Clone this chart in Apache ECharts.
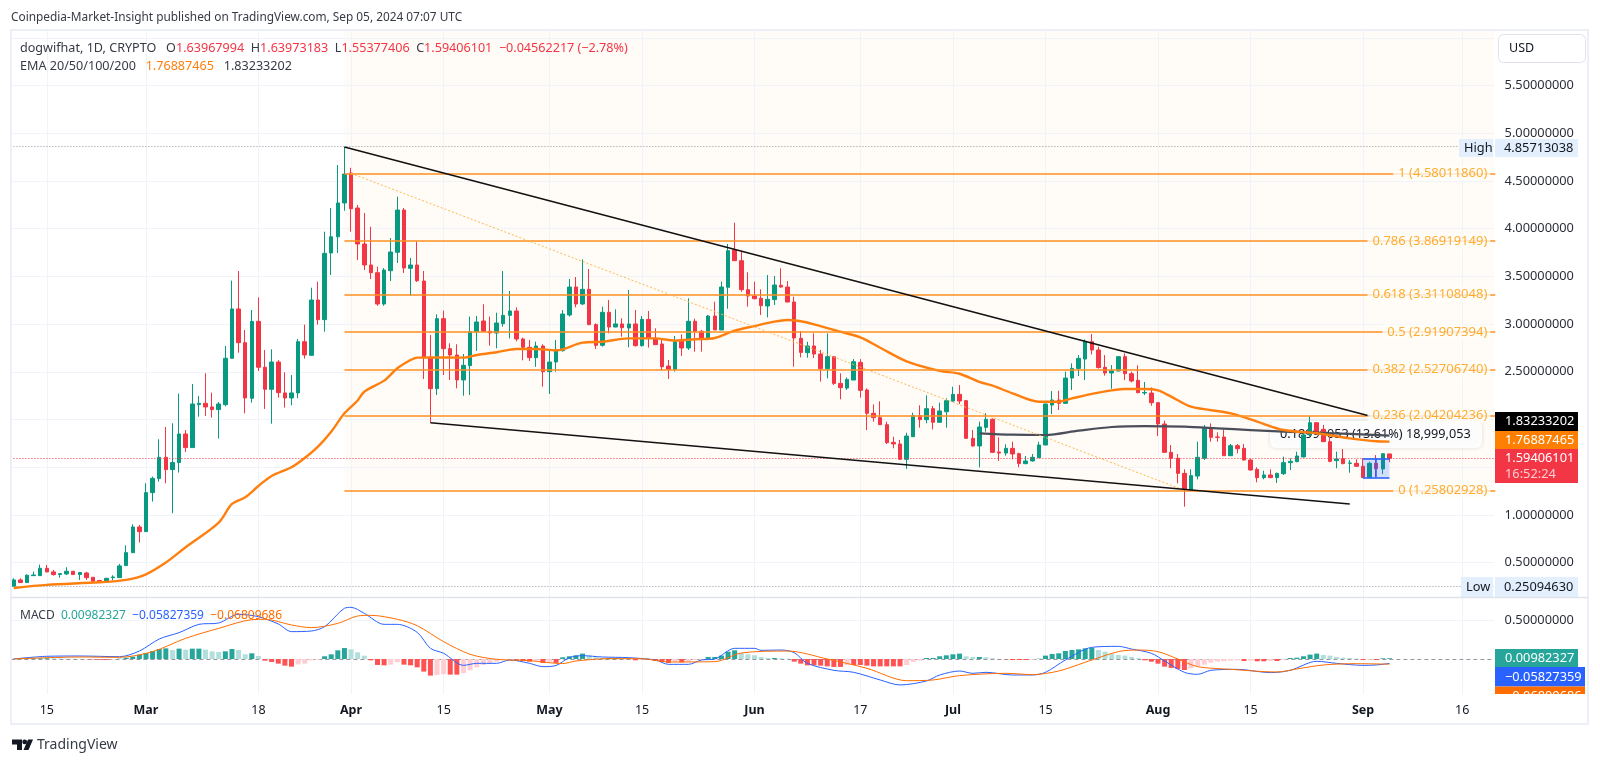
<!DOCTYPE html>
<html><head><meta charset="utf-8">
<style>html,body{margin:0;padding:0;background:#fff}#c{width:1600px;height:764px}</style>
<script src="https://cdn.jsdelivr.net/npm/echarts@6/dist/echarts.min.js"></script>
</head><body><div id="c"></div>
<script>
// [open, close, low, high], one per day from 2024-02-10
const ohlc = [
[.252,.319,.251,.336],[.319,.291,.288,.336],[.291,.368,.291,.378],[.364,.371,.364,.406],[.364,.441,.362,.480],[.441,.403,.399,.476],[.403,.375,.364,.424],[.375,.385,.343,.388],[.382,.410,.371,.452],[.410,.375,.371,.413],
[.375,.396,.319,.403],[.392,.343,.319,.403],[.347,.305,.305,.347],[.312,.294,.294,.319],[.294,.336,.294,.340],[.343,.350,.312,.368],[.343,.466,.343,.487],[.469,.605,.469,.682],[.605,.874,.600,.902],[.874,.825,.710,.895],
[.825,1.234,.825,1.332],[1.234,1.384,1.140,1.402],[1.381,1.604,1.349,1.793],[1.604,1.475,1.332,1.922],[1.475,1.549,1.018,1.961],[1.549,1.849,1.444,2.272],[1.849,1.706,1.660,1.891],[1.706,2.163,1.706,2.373],[2.156,2.170,2.030,2.247],[2.170,2.132,2.037,2.485],
[2.132,2.104,2.020,2.282],[2.104,2.163,1.800,2.184],[2.156,2.642,2.139,2.771],[2.642,3.159,2.642,3.456],[3.159,2.806,2.701,3.557],[2.806,2.226,2.065,2.939],[2.223,3.029,2.177,3.148],[3.029,2.548,2.509,3.281],[2.548,2.317,2.111,2.729],[2.317,2.603,1.957,2.736],
[2.603,2.282,2.230,2.624],[2.279,2.226,2.125,2.495],[2.226,2.279,2.149,2.467],[2.279,2.816,2.223,2.844],[2.816,2.677,2.638,2.995],[2.673,3.253,2.673,3.382],[3.253,3.047,2.995,3.445],[3.047,3.742,2.921,3.969],[3.746,3.916,3.515,4.217],[3.916,4.270,3.746,4.668],
[4.270,4.573,4.189,4.857],[4.584,4.210,3.969,4.639],[4.217,3.840,3.672,4.249],[3.840,3.620,3.567,4.165],[3.620,3.539,3.473,4.021],[3.539,3.211,3.193,3.602],[3.211,3.567,3.193,3.588],[3.560,3.756,3.452,3.903],[3.753,4.196,3.641,4.336],[4.196,3.588,3.536,4.217],
[3.585,3.620,3.298,3.693],[3.620,3.455,3.442,3.864],[3.452,2.652,2.425,3.557],[2.652,2.324,1.968,2.886],[2.324,3.057,2.257,3.103],[3.057,2.743,2.467,3.141],[2.743,2.677,2.415,2.799],[2.677,2.415,2.327,2.789],[2.415,2.568,2.250,2.687],[2.565,2.921,2.257,3.079],
[2.918,3.023,2.719,3.085],[3.033,2.925,2.921,3.208],[2.925,2.907,2.775,3.079],[2.907,3.012,2.747,3.120],[3.005,3.092,2.974,3.557],[3.092,3.138,2.851,3.347],[3.138,2.844,2.820,3.176],[2.844,2.757,2.621,2.858],[2.757,2.649,2.614,2.834],[2.649,2.771,2.554,2.816],
[2.771,2.502,2.345,2.789],[2.502,2.603,2.268,2.722],[2.603,2.722,2.502,2.834],[2.722,3.106,2.712,3.148],[3.096,3.389,3.079,3.473],[3.389,3.211,3.176,3.494],[3.211,3.365,3.201,3.679],[3.365,2.995,2.988,3.578],[2.995,2.778,2.740,3.009],[2.778,3.124,2.764,3.183],
[3.124,2.970,2.904,3.253],[2.970,3.002,2.967,3.155],[3.002,2.963,2.869,3.061],[2.960,3.002,2.757,3.358],[3.002,2.775,2.764,3.148],[2.775,3.050,2.764,3.085],[3.050,2.851,2.754,3.138],[2.851,2.785,2.781,2.956],[2.792,2.554,2.512,2.834],[2.561,2.526,2.425,2.624],
[2.526,2.816,2.502,2.876],[2.823,2.750,2.666,2.893],[2.750,3.030,2.729,3.271],[3.030,2.925,2.712,3.057],[2.925,2.855,2.712,2.939],[2.855,3.085,2.851,3.096],[3.085,2.939,2.939,3.235],[2.939,3.389,2.939,3.445],[3.386,3.770,3.162,3.840],[3.777,3.665,3.662,4.063],
[3.665,3.361,3.340,3.770],[3.361,3.295,3.183,3.543],[3.295,3.267,3.260,3.445],[3.271,3.194,3.096,3.365],[3.190,3.260,3.071,3.515],[3.257,3.410,3.201,3.504],[3.407,3.389,3.382,3.585],[3.389,3.232,3.229,3.452],[3.232,2.855,2.554,3.288],[2.851,2.704,2.652,2.928],
[2.701,2.771,2.648,2.816],[2.771,2.687,2.645,2.903],[2.687,2.533,2.397,2.729],[2.533,2.659,2.432,2.903],[2.659,2.379,2.362,2.666],[2.379,2.334,2.212,2.484],[2.330,2.421,2.310,2.442],[2.414,2.606,2.414,2.634],[2.599,2.306,2.229,2.634],[2.310,2.065,1.890,2.327],
[2.065,2.020,1.978,2.159],[2.020,1.946,1.943,2.191],[1.946,1.758,1.744,1.978],[1.761,1.744,1.698,1.820],[1.744,1.583,1.576,1.786],[1.583,1.827,1.482,1.862],[1.820,2.041,1.817,2.072],[2.041,1.999,1.915,2.149],[1.999,2.114,1.960,2.254],[2.114,1.971,1.897,2.142],
[1.971,2.090,1.967,2.177],[2.082,2.198,1.915,2.222],[2.194,2.264,2.187,2.344],[2.264,2.194,2.163,2.362],[2.198,1.803,1.800,2.205],[1.803,1.723,1.716,1.890],[1.723,1.922,1.499,1.978],[1.918,2.002,1.873,2.065],[2.002,1.656,1.653,2.013],[1.660,1.649,1.566,1.813],
[1.649,1.698,1.621,1.740],[1.698,1.639,1.583,1.768],[1.642,1.538,1.499,1.653],[1.538,1.566,1.531,1.618],[1.566,1.604,1.559,1.639],[1.600,1.733,1.600,1.768],[1.733,2.163,1.733,2.166],[2.152,2.205,2.058,2.299],[2.205,2.170,2.100,2.302],[2.170,2.435,2.166,2.502],
[2.435,2.536,2.310,2.589],[2.536,2.641,2.456,2.676],[2.634,2.816,2.414,2.840],[2.816,2.729,2.683,2.896],[2.729,2.544,2.536,2.764],[2.547,2.488,2.460,2.676],[2.488,2.512,2.323,2.571],[2.509,2.659,2.505,2.666],[2.659,2.481,2.414,2.694],[2.481,2.404,2.390,2.502],
[2.411,2.282,2.275,2.568],[2.278,2.284,2.257,2.393],[2.278,2.177,2.145,2.337],[2.177,1.953,1.827,2.180],[1.953,1.656,1.653,1.988],[1.656,1.594,1.489,1.733],[1.594,1.436,1.332,1.639],[1.436,1.269,1.087,1.478],[1.262,1.412,1.258,1.478],[1.408,1.604,1.373,1.768],
[1.594,1.915,1.576,1.943],[1.908,1.814,1.768,1.960],[1.817,1.814,1.768,1.866],[1.817,1.621,1.618,1.897],[1.621,1.726,1.618,1.744],[1.726,1.695,1.646,1.744],[1.698,1.576,1.569,1.744],[1.576,1.471,1.464,1.590],[1.478,1.391,1.342,1.499],[1.391,1.419,1.373,1.464],
[1.419,1.391,1.391,1.478],[1.391,1.436,1.335,1.443],[1.433,1.548,1.419,1.611],[1.548,1.562,1.471,1.594],[1.559,1.618,1.552,1.663],[1.608,1.838,1.604,1.856],[1.838,1.967,1.821,2.037],[1.967,1.873,1.866,1.967],[1.897,1.768,1.765,1.943],[1.768,1.562,1.552,1.821],
[1.569,1.587,1.489,1.663],[1.590,1.538,1.531,1.691],[1.541,1.545,1.443,1.576],[1.541,1.510,1.506,1.583],[1.510,1.391,1.391,1.594],[1.391,1.541,1.391,1.559],[1.541,1.485,1.394,1.628],[1.482,1.642,1.429,1.642],[1.6397,1.5941,1.5538,1.6397]
];
// [day index, value]
const ema50 = [[0,.235],[5,.267],[13,.294],[17,.319],[20,.378],[23,.501],[26,.661],[31,.920],[33,1.115],[35,1.185],[37,1.304],[39,1.409],[42,1.500],[44,1.597],[46,1.716],[48,1.873],[50,2.065],[52,2.200],[53,2.292],[56,2.408],[58,2.537],[60,2.624],[61,2.649],[63,2.652],[68,2.649],[70,2.677],[73,2.705],[76,2.740],[79,2.740],[82,2.726],[83,2.736],[86,2.806],[89,2.816],[93,2.851],[97,2.851],[100,2.827],[103,2.841],[106,2.855],[109,2.932],[112,2.980],[115,3.026],[117,3.043],[119,3.030],[121,2.998],[125,2.921],[128,2.861],[131,2.753],[135,2.610],[140,2.510],[143,2.480],[146,2.395],[148,2.355],[151,2.275],[155,2.187],[158,2.187],[160,2.222],[164,2.282],[168,2.320],[171,2.320],[173,2.305],[175,2.240],[178,2.135],[184,2.065],[188,1.978],[192,1.890],[197,1.856],[202,1.803],[206,1.772],[208,1.769]];
const ema200 = [[146,1.855],[151,1.841],[156,1.838],[161,1.883],[166,1.922],[171,1.932],[177,1.925],[182,1.908],[187,1.890],[192,1.873],[197,1.862],[202,1.849],[208,1.832]];
const macdHist = [
.002,.004,.006,.008,.009,.010,.008,.006,.005,.004,
.003,-.002,-.006,-.010,-.012,-.006,.004,.017,.030,.057,
.078,.104,.130,.139,.117,.135,.122,.135,.135,.122,
.100,.091,.100,.130,.117,.061,.074,.039,-.022,-.039,
-.061,-.087,-.100,-.070,-.061,-.017,-.009,.035,.061,.113,
.143,.126,.087,.043,-.017,-.078,-.083,-.074,-.043,-.074,
-.083,-.109,-.165,-.217,-.209,-.200,-.204,-.204,-.183,-.148,
-.109,-.078,-.057,-.035,-.013,-.009,-.009,-.026,-.035,-.022,
-.052,-.035,-.052,.022,.035,.048,.070,.044,.022,.013,
.013,.013,.009,.004,-.017,-.009,-.013,-.026,-.039,-.052,
-.035,-.044,-.035,-.013,-.009,.026,.026,.044,.096,.113,
.078,.061,.048,.026,.013,.013,.009,.004,-.035,-.061,
-.083,-.083,-.087,-.096,-.104,-.104,-.078,-.078,-.078,-.087,
-.096,-.096,-.096,-.096,-.096,-.078,-.039,-.022,.013,.013,
.035,.048,.061,.070,.035,.026,.026,.022,.009,-.002,
-.004,-.013,-.013,-.013,-.009,.004,.044,.065,.074,.104,
.117,.126,.139,.144,.117,.096,.065,.052,.044,.026,
.009,-.017,-.035,-.061,-.100,-.117,-.130,-.144,-.122,-.091,
-.074,-.048,-.035,-.030,-.022,-.017,-.026,-.022,-.030,-.030,
-.026,-.026,-.009,.013,.017,.035,.057,.070,.052,.044,
.026,.017,.013,.004,-.013,-.009,-.013,.009,.010];
const macdLine = [[0,0],[5,.035],[10,.039],[16,.030],[19,.104],[22,.261],[25,.344],[28,.452],[31,.470],[34,.583],[37,.552],[40,.457],[42,.357],[45,.365],[47,.422],[50,.661],[51,.674],[53,.596],[56,.452],[58,.452],[61,.348],[63,.139],[65,.074],[68,-.083],[70,-.057],[73,-.057],[75,-.013],[78,-.057],[80,-.100],[82,-.085],[84,.017],[86,.043],[89,.026],[93,.017],[97,-.013],[99,-.070],[102,-.070],[104,-.013],[106,0],[109,.139],[112,.139],[113,.113],[116,.117],[118,.083],[120,-.057],[124,-.148],[127,-.174],[131,-.274],[134,-.339],[138,-.287],[140,-.209],[143,-.157],[145,-.187],[147,-.174],[151,-.209],[154,-.209],[156,-.174],[159,-.013],[163,.152],[167,.165],[169,.130],[172,.074],[174,-.026],[177,-.174],[179,-.200],[181,-.148],[185,-.135],[190,-.178],[193,-.148],[197,-.030],[200,-.057],[204,-.083],[206,-.078],[208,-.058]];
const macdSignal = [[0,0],[10,.026],[16,.022],[21,.096],[26,.270],[31,.400],[36,.513],[38,.518],[42,.444],[45,.409],[49,.465],[52,.561],[54,.570],[58,.518],[61,.435],[65,.226],[69,.061],[73,-.004],[78,-.022],[83,-.060],[85,-.026],[90,.004],[95,.004],[99,-.039],[106,-.035],[110,.078],[117,.104],[123,0],[129,-.122],[135,-.283],[139,-.274],[143,-.217],[150,-.187],[154,-.204],[158,-.157],[162,-.043],[167,.096],[170,.117],[173,.096],[176,0],[179,-.100],[184,-.135],[191,-.170],[194,-.130],[198,-.078],[203,-.061],[208,-.068]];
const priceTicks = [.5,1,1.5,2,2.5,3,3.5,4,4.5,5,5.5,6];
const priceLabels = [.5,1,2.5,3,3.5,4,4.5,5,5.5];
const fibLevels = [1,.786,.618,.5,.382,.236,0];
const fibPrices = [4.58011860,3.86919149,3.31108048,2.91907394,2.52706740,2.04204236,1.25802928];
const timeTickIndex = [5,20,37,51,65,81,95,112,128,142,156,173,187,204,219];
const timeTickText = ['15','Mar','18','Apr','15','May','15','Jun','17','Jul','15','Aug','15','Sep','16'];
const boldTicks = ['Mar','Apr','May','Jun','Jul','Aug','Sep'];
const highPrice = 4.85713038, lowPrice = 0.25094630, lastPrice = 1.59406101;
const upperTrend = [[50,4.857],[205,2.037]];
const lowerTrend = [[63,1.967],[202,1.115]];
const fibDiagonal = [[51,4.58],[177,1.258]];
const measure = {from:204,to:208,top:1.594,bottom:1.394,mid:206};

const FONT = '"Noto Sans",sans-serif';
const categories = [];
for (let i=0,d=new Date(Date.UTC(2024,1,10)); i<225; i++, d=new Date(d.getTime()+864e5)) categories.push(d.toISOString().slice(0,10));
const tickText = {}; timeTickIndex.forEach((k,i)=>tickText[k]=timeTickText[i]);
const hide = {show:false};
const silentLine = (data,color,width,type,z,opacity)=>({silent:true,symbol:['none','none'],animation:false,label:{show:false},z:z,
  lineStyle:{color,width,type:type||'solid',opacity:opacity==null?1:opacity},emphasis:{disabled:true},data});
const seg = (a,b)=>[{coord:a},{coord:b}];
const histColor = macdHist.map((v,i)=>{const p=i?macdHist[i-1]:0;return v>=0?(v>=p?'#26a69a':'#b2dfdb'):(v<=p?'#ff5252':'#ffcdd2');});

const txt = (x,y,text,size,color,extra)=>({type:'text',z:30,silent:true,x,y,style:Object.assign({text,fontSize:size,fontFamily:FONT,fill:color,verticalAlign:'middle',align:'left'},extra||{})});
const box = (x,y,w,h,fill,z,r)=>({type:'rect',silent:true,z:z||25,shape:{x,y,width:w,height:h,r:r||0},style:{fill}});
const grey='#131722', red='#f23645';

const option = {
 animation:false, backgroundColor:'#fff',
 grid:[{left:10.4,top:30,width:1488.2,height:567},{left:10.4,top:598,width:1488.2,height:96}],
 xAxis:[
  {type:'category',gridIndex:0,data:categories,show:false},
  {type:'category',gridIndex:1,data:categories,axisLine:hide,axisTick:hide,splitLine:hide,
   axisLabel:{interval:(i)=>tickText[i]!==undefined,hideOverlap:false,margin:10,fontSize:12.5,fontFamily:FONT,color:grey,
     formatter:(v,i)=>{const t=tickText[i]||'';return boldTicks.includes(t)?'{b|'+t+'}':t;},
     rich:{b:{fontWeight:'bold',fontSize:12.5,fontFamily:FONT,color:grey}}}}
 ],
 yAxis:[
  {type:'value',gridIndex:0,position:'right',min:0.14,max:6.083,z:40,axisLine:hide,axisTick:hide,splitLine:hide,
   axisLabel:{customValues:priceLabels,margin:6,fontSize:12.8,fontFamily:FONT,color:'#2a2e39',formatter:v=>v.toFixed(8)}},
  {type:'value',gridIndex:1,position:'right',min:-0.457,max:0.796,z:40,axisLine:hide,axisTick:hide,splitLine:hide,
   axisLabel:{customValues:[.5],margin:6,fontSize:12.8,fontFamily:FONT,color:'#2a2e39',formatter:v=>v.toFixed(8)}}
 ],
 graphic:{elements:[
  box(1494,31,94,692,'#fff',5),
  {type:'rect',silent:true,z:2,shape:{x:1270,y:421,width:212,height:27,r:6},style:{fill:'rgba(255,255,255,.92)',shadowBlur:4,shadowColor:'rgba(0,0,0,.15)'}},
  {type:'text',silent:true,z:2,z2:5,x:1280,y:434.5,style:{text:'0.18999053 (13.61%) 18,999,053',fontSize:12.7,fontFamily:FONT,fill:grey,verticalAlign:'middle'}},
  txt(11,17.5,'Coinpedia-Market-Insight published on TradingView.com, Sep 05, 2024 07:07 UTC',11.85,'#363a45'),
  {type:'text',z:30,silent:true,x:20,y:48,style:{verticalAlign:'middle',fontSize:12.6,fontFamily:FONT,fill:'#363a45',
    text:'dogwifhat, 1D, CRYPTO   O{r|1.63967994}  H{r|1.63973183}  L{r|1.55377406}  C{r|1.59406101}  {r|−0.04562217 (−2.78%)}',
    rich:{r:{fill:red,fontSize:12.6,fontFamily:FONT}}}},
  {type:'text',z:30,silent:true,x:20,y:66.5,style:{verticalAlign:'middle',fontSize:12.6,fontFamily:FONT,fill:'#363a45',
    text:'EMA 20/50/100/200   {o|1.76887465}   1.83233202',rich:{o:{fill:'#ff7f0e',fontSize:12.6,fontFamily:FONT}}}},
  {type:'text',z:30,silent:true,x:20,y:616,style:{verticalAlign:'middle',fontSize:12,fontFamily:FONT,fill:'#363a45',
    text:'MACD  {g|0.00982327}  {b|−0.05827359}  {o|−0.06809686}',
    rich:{g:{fill:'#26a69a',fontSize:12,fontFamily:FONT},b:{fill:'#2962ff',fontSize:12,fontFamily:FONT},o:{fill:'#ff6d00',fontSize:12,fontFamily:FONT}}}},
  {type:'rect',silent:true,z:25,shape:{x:1498.5,y:34.5,width:87,height:28,r:5},style:{fill:'#fff',stroke:'#e0e3eb',lineWidth:1}},
  txt(1509,48.5,'USD',12.5,grey),
  box(1459,139,34,18,'#e3effd'), box(1495,139,83,18,'#e3effd'),
  txt(1464,148,'High',12.8,grey), txt(1504,148,'4.85713038',12.8,grey),
  box(1461,577,32,20,'#e3effd'), box(1495,577,83,20,'#e3effd'),
  txt(1466,587,'Low',12.8,grey), txt(1504,587,'0.25094630',12.8,grey),
  box(1495,412,83,19,'#000'), txt(1505,421.5,'1.83233202',12.8,'#fff'),
  box(1495,431,83,18.5,'#ff7f00'), txt(1505,440,'1.76887465',12.8,'#fff'),
  box(1495,449,83,34,'#f23645'), txt(1505,458.5,'1.59406101',12.8,'#fff'), txt(1505,474,'16:52:24',12.8,'rgba(255,255,255,.75)'),
  box(1495,649,83,18,'#26a69a'), txt(1505,658.5,'0.00982327',12.8,'#fff'),
  box(1495,667,90,19.5,'#2962ff'), txt(1505,677,'−0.05827359',12.8,'#fff'),
  box(1495,686.5,90,14,'#ff6d00'), txt(1505,696,'−0.06809686',12.8,'#fff'),
  box(1494,694,94,29,'#fff',31),
  {type:'rect',silent:true,z:35,shape:{x:11,y:30,width:1577,height:694},style:{fill:'none',stroke:'#eceff5',lineWidth:2}},
  {type:'line',silent:true,z:35,shape:{x1:11,y1:597.5,x2:1588,y2:597.5},style:{stroke:'#e0e3eb',lineWidth:1.5}},
  {type:'polygon',silent:true,z:30,shape:{points:[[12,739.5],[22,739.5],[22,750],[17,750],[17,744.5],[12,744.5]]},style:{fill:'#131722'}},
  {type:'circle',silent:true,z:30,shape:{cx:24.7,cy:741.9,r:2.4},style:{fill:'#131722'}},
  {type:'polygon',silent:true,z:30,shape:{points:[[28,739.5],[33,739.5],[28.5,750],[23.5,750]]},style:{fill:'#131722'}},
  txt(37,745.5,'TradingView',14,'#363a45')
 ]},
 series:[
  {type:'line',name:'bg',xAxisIndex:0,yAxisIndex:0,z:0,data:[],silent:true,
   markArea:{silent:true,z:0,animation:false,itemStyle:{color:'#fffcf8'},label:{show:false},data:[[{coord:[50,fibPrices[6]]},{coord:[224,6.083]}]]},
   markLine:silentLine(priceTicks.map(v=>({yAxis:v})).concat(timeTickIndex.map(k=>({xAxis:k}))),'#f0f3fa',1,'solid',1)},
  {type:'line',name:'bg2',xAxisIndex:1,yAxisIndex:1,z:0,data:[],silent:true,
   markLine:silentLine([{yAxis:.5}].concat(timeTickIndex.map(k=>({xAxis:k}))),'#f0f3fa',1,'solid',1)},
  {type:'candlestick',name:'dogwifhat',xAxisIndex:0,yAxisIndex:0,z:3,data:ohlc,barWidth:4,silent:true,
   itemStyle:{color:'#089981',color0:'#f23645',borderColor:'#089981',borderColor0:'#f23645',borderWidth:1}},
  {type:'line',name:'EMA 200',xAxisIndex:0,yAxisIndex:0,z:4,data:ema200,smooth:.3,showSymbol:false,silent:true,lineStyle:{color:'#4a4e59',width:2.2}},
  {type:'line',name:'EMA 50',xAxisIndex:0,yAxisIndex:0,z:4,data:ema50,smooth:.3,showSymbol:false,silent:true,lineStyle:{color:'#ff7f0e',width:2.4}},
  {type:'line',name:'guides',xAxisIndex:0,yAxisIndex:0,z:4,data:[],silent:true,
   markArea:{silent:true,z:4,animation:false,itemStyle:{color:'rgba(41,98,255,.2)'},label:{show:false},data:[[{coord:[measure.from,measure.top]},{coord:[measure.to,measure.bottom]}]]},
   markLine:silentLine([{yAxis:highPrice},{yAxis:lowPrice}],'#9598a1',1,[1,2],4)},
  {type:'line',name:'last',xAxisIndex:0,yAxisIndex:0,z:4,data:[],silent:true,
   markLine:silentLine([{yAxis:lastPrice}],'#f23645',1,[1,2],4)},
  {type:'line',name:'fib',xAxisIndex:0,yAxisIndex:0,z:5,data:[],silent:true,
   markLine:silentLine(fibPrices.map(v=>seg([50,v],[224,v])),'#ff8f1f',1.6,'solid',5)},
  {type:'line',name:'fibDiag',xAxisIndex:0,yAxisIndex:0,z:5,data:[],silent:true,
   markLine:silentLine([seg(fibDiagonal[0],fibDiagonal[1])],'#ffb74d',1,[2,2],5)},
  {type:'line',name:'trend',xAxisIndex:0,yAxisIndex:0,z:6,data:[],silent:true,
   markLine:silentLine([seg(upperTrend[0],upperTrend[1]),seg(lowerTrend[0],lowerTrend[1])],'#111',1.6,'solid',6)},
  {type:'line',name:'measure',xAxisIndex:0,yAxisIndex:0,z:6,data:[],silent:true,
   markLine:silentLine([seg([measure.from,measure.top],[measure.to,measure.top]),seg([measure.from,measure.bottom],[measure.to,measure.bottom]),seg([measure.mid,measure.bottom],[measure.mid,measure.top])],'#2962ff',1.6,'solid',6)},
  {type:'scatter',name:'fibLabels',xAxisIndex:0,yAxisIndex:0,z:7,symbolSize:0,silent:true,
   data:fibPrices.map((v,i)=>({value:[224,v],level:fibLevels[i]})),
   label:{show:true,position:'left',distance:5,fontSize:13,fontFamily:FONT,color:'#ff9800',backgroundColor:'#fffcf8',padding:[1,3,1,5],
    formatter:p=>p.data.level+' ('+p.data.value[1].toFixed(8)+')'}},
  {type:'bar',name:'Histogram',xAxisIndex:1,yAxisIndex:1,z:2,barWidth:5,silent:true,
   data:macdHist.map((v,i)=>({value:v,itemStyle:{color:histColor[i]}}))},
  {type:'line',name:'zero',xAxisIndex:1,yAxisIndex:1,z:2,data:[],silent:true,
   markLine:silentLine([{yAxis:0}],'#9598a1',1,[4,3],2)},
  {type:'line',name:'MACD',xAxisIndex:1,yAxisIndex:1,z:4,data:macdLine,smooth:.3,showSymbol:false,silent:true,lineStyle:{color:'#2962ff',width:1}},
  {type:'line',name:'Signal',xAxisIndex:1,yAxisIndex:1,z:4,data:macdSignal,smooth:.3,showSymbol:false,silent:true,lineStyle:{color:'#ff6d00',width:1}}
 ]
};
const chart = echarts.init(document.getElementById('c'),null,{renderer:'canvas'});
chart.setOption(option);
</script></body></html>
